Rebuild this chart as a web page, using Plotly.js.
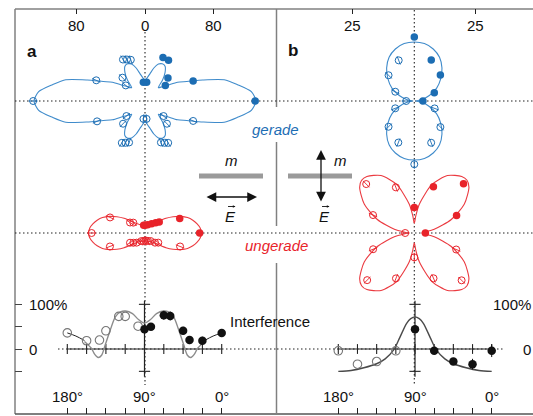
<!DOCTYPE html>
<html><head><meta charset="utf-8">
<script src="https://cdn.plot.ly/plotly-3.0.1.min.js"></script>
<style>html,body{margin:0;padding:0;background:#fff}#chart{width:533px;height:416px}</style>
</head><body><div id="chart"></div>
<script>
// ================= DATA =================
// Fit curves: one quadrant (theta in deg, r in plot units); the distributions are mirror-symmetric
const gaCurveTheta = [0,5,10,15,20,25,30,35,40,45,50,55,60,65,70,75,80,85,90];
const gaCurveR     = [130,125,110,96,72,54,44,32,26,22,32,41,47,48,46,40,32,27,24];
const uaCurveTheta = [0,5,10,15,20,25,30,35,40,45,50,55,60,70,80,90];
const uaCurveR     = [66,65,62,58,53,46,38,30,22,17,14,12.4,11.4,10.2,9.6,9.4];
const gbCurveTheta = [0,10,20,30,40,50,60,70,80,90];
const gbCurveR     = [0.5,3,6.5,10.5,14,17.5,20.5,22.5,23.7,24];
const ubCurveTheta = [0,10,20,30,40,45,50,60,70,80,85,90];
const ubCurveR     = [3,8,16,23.5,29,30.3,30,27,21,12,7,4];

// Measured points (theta deg, r)
const gaFillTheta = [0,22.5,37.5,45,60,67.5,85,95];
const gaFillR     = [129,61,30,38,55,55,22,22];
const gaOpenTheta = [180,157,141,134,118,113.5,109,203,219,226,241,245,249,265,275,291,295,299,314,321,337.5];
const gaOpenR     = [131,62,29,38,55,53,51,61,28,37,56,54,52,21,21,52,54,56,37,28,61];

const uaFillTheta = [0,22.5,37.5,44,54.5,72,90,100];
const uaFillR     = [64,44,21,17.4,13.4,10.2,9.2,9.2];
const uaOpenTheta = [180,156,145,138.5,201,213,220,229,245,260,275,290,305,316,324,339];
const uaOpenR     = [62.5,44.8,21.4,18.3,44,20.9,17.8,15,10.5,9.5,9.3,9.8,11.5,16.3,19.2,44];

const gbFillTheta = [90,67.5,45,22.5,0];
const gbFillR     = [26,18,15,8.8,3.5];
const gbOpenTheta = [111,135,154,180,201,225,249,270,292,315,340];
const gbOpenR     = [17.7,14.8,8.6,3.3,8.3,14.8,18.1,25.7,18.3,15,8.8];

const ubFillTheta = [0,22.5,45,67.5,90];
const ubFillR     = [4.5,18.6,28.3,20.3,10.4];
const ubOpenTheta = [112,134.5,156.5,180,201.5,225,248,270,293,315,338.5];
const ubOpenR     = [20,27.9,18.3,3.7,18,27.1,19.9,9.9,20,27.2,18.3];

// Interference (angle deg, %)
const iaOpenAng  = [180,157.5,142.5,135,120,112.5,97.5];
const iaOpenVal  = [36,18.5,20,40.7,73,73,51];
const iaFillAng  = [90,82.5,67.5,60,45,37.5,22.5,0];
const iaFillVal  = [44,50,75.5,74,40.7,20,18.5,36];
const iaFillErr  = [9,8,10,10,9,9,9,5];
const iaTheoAng  = [160,152,148,144,140,136,130,124,118,112,104,97,90,83,76,68,62,56,50,44,40,36,32,28,20];
const iaTheoVal  = [17,2,-12,-19,-14,8,42,72,83,85,79,66,58,66,79,85,83,72,42,8,-14,-19,-12,2,17];
const iaLineLAng = [180,170,160]; const iaLineLVal = [36,29,19];
const iaLineRAng = [20,10,0];     const iaLineRVal = [19,29,36];

const ibOpenAng  = [180,157.5,135,112.5];
const ibOpenVal  = [-4,-34,-28,-4];
const ibFillAng  = [90,67.5,45,22.5,0];
const ibFillVal  = [44,-4,-28,-34,-4];
const ibFillErr  = [0,3,5,12,14];
const ibTheoAng  = [180,165,150,135,125,115,108,100,95,90,85,80,72,65,55,45,30,15,0];
const ibTheoVal  = [-50,-48,-42,-33,-22,-2,25,57,68,72,68,57,25,-2,-22,-33,-42,-48,-50];

// Axis ticks / labels
const topTicksA = [-80,0,80];  const topTextA = ['80','0','80'];
const topTicksB = [-25,25];    const topTextB = ['25','25'];
const intTicks  = [0,22.5,45,67.5,90,112.5,135,157.5,180];
const intLabVals = [180,90,0]; const intLabText = ['180°','90°','0°'];
const intYTicks = [-50,0,50,100];
const intYLabVals = [100,0];   const intYLabText = ['100%','0'];
const vAxisCross = [100,-50];

// ================= LAYOUT HELPERS =================
const W=533, H=416;
const fx = p => p/W, fy = p => 1 - p/H;
function xAx(lo,hi,c,s){ return {domain:[lo/W,hi/W], range:[(lo-c)/s,(hi-c)/s]}; }
function yAx(top,bot,c,s){ return {domain:[1-bot/H,1-top/H], range:[(c-bot)/s,(c-top)/s]}; }
function angAx(lo,hi,p180,p0){ const s=(p0-p180)/180; return {domain:[lo/W,hi/W], range:[180-(lo-p180)/s,180-(hi-p180)/s]}; }
const rad = Math.PI/180;
function toXY(th,r){ return {x:th.map((t,i)=>r[i]*Math.cos(t*rad)), y:th.map((t,i)=>r[i]*Math.sin(t*rad))}; }
function closeCurve(th,r){
  const T=[],R=[],n=th.length;
  for(let i=0;i<n;i++){T.push(th[i]);R.push(r[i]);}
  for(let i=n-2;i>=0;i--){T.push(180-th[i]);R.push(r[i]);}
  for(let i=1;i<n;i++){T.push(180+th[i]);R.push(r[i]);}
  for(let i=n-2;i>=0;i--){T.push(360-th[i]);R.push(r[i]);}
  return toXY(T,R);
}
const ax = k => k===1 ? {xaxis:'x',yaxis:'y'} : {xaxis:'x'+k,yaxis:'y'+k};

const BLUE='#1c6db3', BLUEL='#3f8bcb', RED='#e8232a', REDL='#eb3a40';
const FONT='Liberation Sans, Arial, Helvetica, sans-serif';

function curve(th,r,k,color){
  const p=closeCurve(th,r);
  return Object.assign({type:'scatter',mode:'lines',x:p.x,y:p.y,hoverinfo:'skip',
    line:{color:color,width:1.1,shape:'spline',smoothing:0.7}},ax(k));
}
function filled(th,r,k,color){
  const p=toXY(th,r);
  return Object.assign({type:'scatter',mode:'markers',x:p.x,y:p.y,cliponaxis:false,hoverinfo:'skip',
    marker:{symbol:'circle',size:7.5,color:color}},ax(k));
}
function open(th,r,k,color){
  const p=toXY(th,r);
  return [
    Object.assign({type:'scatter',mode:'markers',x:p.x,y:p.y,cliponaxis:false,hoverinfo:'skip',
      marker:{symbol:'circle-open',size:7,color:color,line:{color:color,width:1}}},ax(k)),
    Object.assign({type:'scatter',mode:'markers',x:p.x,y:p.y,cliponaxis:false,hoverinfo:'skip',
      marker:{symbol:'line-ns-open',size:6.5,angle:th.map(t=>90-t),color:color,line:{color:color,width:0.9}}},ax(k))
  ];
}

const traces = [
  curve(gaCurveTheta,gaCurveR,1,BLUEL),
  ...open(gaOpenTheta,gaOpenR,1,BLUE),
  filled(gaFillTheta,gaFillR,1,BLUE),
  curve(uaCurveTheta,uaCurveR,2,REDL),
  ...open(uaOpenTheta,uaOpenR,2,RED),
  filled(uaFillTheta,uaFillR,2,RED),
  curve(gbCurveTheta,gbCurveR,3,BLUEL),
  ...open(gbOpenTheta,gbOpenR,3,BLUE),
  filled(gbFillTheta,gbFillR,3,BLUE),
  curve(ubCurveTheta,ubCurveR,4,REDL),
  ...open(ubOpenTheta,ubOpenR,4,RED),
  filled(ubFillTheta,ubFillR,4,RED),
];

// interference panels
function intTraces(k, theo, theoColor, opens, fills, extra){
  const t=[];
  t.push(Object.assign({type:'scatter',mode:'markers',x:intTicks,y:intTicks.map(()=>0),hoverinfo:'skip',cliponaxis:false,
    marker:{symbol:'line-ns-open',size:7,color:'#222',line:{color:'#222',width:1.1}}},ax(k)));
  t.push(Object.assign({type:'scatter',mode:'markers',x:vAxisCross.map(()=>90),y:vAxisCross,hoverinfo:'skip',cliponaxis:false,
    marker:{symbol:'line-ew-open',size:8,color:'#222',line:{color:'#222',width:1.1}}},ax(k)));
  t.push(Object.assign({type:'scatter',mode:'lines',x:theo[0],y:theo[1],hoverinfo:'skip',
    line:{color:theoColor,width:1.4,shape:'spline',smoothing:0.8}},ax(k)));
  (extra||[]).forEach(e=>t.push(Object.assign({type:'scatter',mode:'lines',x:e[0],y:e[1],hoverinfo:'skip',
    line:{color:'#222',width:1,shape:'spline'}},ax(k))));
  t.push(Object.assign({type:'scatter',mode:'markers',x:opens[0],y:opens[1],hoverinfo:'skip',cliponaxis:false,
    marker:{symbol:'circle-open',size:8.5,color:'#777',line:{color:'#777',width:1.1}}},ax(k)));
  t.push(Object.assign({type:'scatter',mode:'markers',x:fills[0],y:fills[1],hoverinfo:'skip',cliponaxis:false,
    error_y:{type:'data',array:fills[2],visible:true,color:'#111',thickness:1,width:0},
    marker:{symbol:'circle',size:8.5,color:'#111'}},ax(k)));
  return t;
}
traces.push(...intTraces(5,[iaTheoAng,iaTheoVal],'#8c8c8c',[iaOpenAng,iaOpenVal],[iaFillAng,iaFillVal,iaFillErr],
  [[iaLineLAng,iaLineLVal],[iaLineRAng,iaLineRVal]]));
traces.push(...intTraces(6,[ibTheoAng,ibTheoVal],'#4a4a4a',[ibOpenAng,ibOpenVal],[ibFillAng,ibFillVal,ibFillErr],[]));

// ================= LAYOUT =================
const base = {showgrid:false,zeroline:false,showline:false,fixedrange:true};
const hidden = Object.assign({},base,{visible:false});
const S_A=0.854, S_B=2.46, S_I=0.4467;
const CXA=145, CXB=414.3;

const layout = {
  width:W,height:H,margin:{l:0,r:0,t:0,b:0},showlegend:false,
  paper_bgcolor:'#fff',plot_bgcolor:'rgba(0,0,0,0)',
  font:{family:FONT,size:15,color:'#111'},
  xaxis: Object.assign({},base,xAx(15,276,CXA,S_A),{anchor:'y',side:'top',ticks:'inside',ticklen:5,tickwidth:1,tickcolor:'#222',tickvals:topTicksA,showticklabels:false}),
  yaxis: Object.assign({},hidden,yAx(9,167,101,S_A),{anchor:'x'}),
  xaxis2: Object.assign({},hidden,xAx(15,276,CXA,S_A),{anchor:'y2'}),
  yaxis2: Object.assign({},hidden,yAx(167,300,233,S_A),{anchor:'x2'}),
  xaxis3: Object.assign({},base,xAx(276,533,CXB,S_B),{anchor:'y3',side:'top',ticks:'inside',ticklen:5,tickwidth:1,tickcolor:'#222',tickvals:topTicksB,showticklabels:false}),
  yaxis3: Object.assign({},hidden,yAx(9,170,101,S_B),{anchor:'x3'}),
  xaxis4: Object.assign({},hidden,xAx(276,533,CXB,S_B),{anchor:'y4'}),
  yaxis4: Object.assign({},hidden,yAx(167,300,233,S_B),{anchor:'x4'}),
  xaxis5: Object.assign({},base,angAx(15,276,67.3,221.7),{anchor:'y5',side:'bottom',ticks:'inside',ticklen:6,tickwidth:1,tickcolor:'#222',tickvals:intTicks,showticklabels:false}),
  yaxis5: Object.assign({},base,yAx(280,414,349,S_I),{anchor:'x5',side:'left',ticks:'inside',ticklen:7,tickwidth:1,tickcolor:'#444',tickvals:intYTicks,showticklabels:false}),
  xaxis6: Object.assign({},base,angAx(276,533,338.3,491.7),{anchor:'y6',side:'bottom',ticks:'inside',ticklen:6,tickwidth:1,tickcolor:'#222',tickvals:intTicks,showticklabels:false}),
  yaxis6: Object.assign({},hidden,yAx(280,414,349,S_I),{anchor:'x6'}),
};

const FR='#808080', DOT='1.5px,2.5px';
function pline(x0,y0,x1,y1,color,width,dash){ return {type:'line',xref:'paper',yref:'paper',x0:fx(x0),y0:fy(y0),x1:fx(x1),y1:fy(y1),layer:'below',line:{color:color,width:width,dash:dash||'solid'}}; }
layout.shapes = [
  pline(15,9,15,414,FR,1.5), pline(15,9,533,9,FR,1.5), pline(15,414,533,414,'#555',1.5),
  pline(276.5,9,276.5,107,FR,1.5), pline(276.5,142,276.5,226,FR,1.5), pline(276.5,263,276.5,414,FR,1.5),
  {type:'line',xref:'paper',yref:'y',x0:fx(15),x1:1,y0:0,y1:0,layer:'below',line:{color:'#222',width:1.1,dash:DOT}},
  {type:'line',xref:'paper',yref:'y2',x0:fx(15),x1:1,y0:0,y1:0,layer:'below',line:{color:'#222',width:1.1,dash:DOT}},
  {type:'line',xref:'x',yref:'paper',x0:0,x1:0,y0:fy(32),y1:fy(385),layer:'below',line:{color:'#222',width:1.1,dash:DOT}},
  {type:'line',xref:'x3',yref:'paper',x0:0,x1:0,y0:fy(10),y1:fy(385),layer:'below',line:{color:'#222',width:1.1,dash:DOT}},
  {type:'line',xref:'paper',yref:'y5',x0:fx(58),x1:fx(276),y0:0,y1:0,layer:'below',line:{color:'#222',width:1.1,dash:DOT}},
  {type:'line',xref:'paper',yref:'y6',x0:fx(277),x1:fx(505),y0:0,y1:0,layer:'below',line:{color:'#222',width:1.1,dash:DOT}},
  {type:'line',xref:'x5',yref:'y5',x0:180,x1:0,y0:0,y1:0,layer:'below',line:{color:'#222',width:1.2}},
  {type:'line',xref:'x5',yref:'y5',x0:90,x1:90,y0:-62,y1:108,layer:'below',line:{color:'#222',width:1.2}},
  {type:'line',xref:'x6',yref:'y6',x0:180,x1:0,y0:0,y1:0,layer:'below',line:{color:'#222',width:1.2}},
  {type:'line',xref:'x6',yref:'y6',x0:90,x1:90,y0:-62,y1:108,layer:'below',line:{color:'#222',width:1.2}},
  pline(199,176,263,176,'#9a9a9a',5), pline(288,176,352,176,'#9a9a9a',5),
];

function txt(text,x,y,opts){ return Object.assign({text:text,x:x,y:y,xref:'paper',yref:'paper',showarrow:false,xanchor:'center',yanchor:'middle',font:{family:FONT,size:15,color:'#111'}},opts||{}); }
const ann = [];
topTicksA.forEach((v,i)=>ann.push(txt(topTextA[i],v,fy(25),{xref:'x'})));
topTicksB.forEach((v,i)=>ann.push(txt(topTextB[i],v,fy(25),{xref:'x3'})));
ann.push(txt('<b>a</b>',fx(32),fy(51),{font:{family:FONT,size:17,color:'#111'}}));
ann.push(txt('<b>b</b>',fx(293),fy(50),{font:{family:FONT,size:17,color:'#111'}}));
ann.push(txt('<i>gerade</i>',fx(275.5),fy(129),{font:{family:FONT,size:15,color:BLUE}}));
ann.push(txt('<i>ungerade</i>',fx(276),fy(245),{font:{family:FONT,size:15,color:RED}}));
ann.push(txt('<i>m</i>',fx(231),fy(160)));
ann.push(txt('<i>m</i>',fx(341),fy(160)));
ann.push(txt('<i>E</i>',fx(230),fy(216)));
ann.push(txt('<i>E</i>',fx(324),fy(216)));
ann.push(txt('Interference',fx(228),fy(321),{xanchor:'left'}));
intLabVals.forEach((v,i)=>{ ann.push(txt(intLabText[i],v,fy(396),{xref:'x5'})); ann.push(txt(intLabText[i],v,fy(396),{xref:'x6'})); });
intYLabVals.forEach((v,i)=>{
  ann.push(txt(intYLabText[i],fx(27),v,{yref:'y5',xanchor:'left'}));
  ann.push(txt(intYLabText[i],1,v,{yref:'y6',xanchor:'right'}));
});
function arrow(x,y,axp,ayp,both,size,width){ return {xref:'paper',yref:'paper',x:fx(x),y:fy(y),ax:axp,ay:ayp,text:'',showarrow:true,
  arrowhead:2,arrowsize:size,arrowwidth:width,arrowcolor:'#111',arrowside:both?'end+start':'end',standoff:0,startstandoff:0}; }
ann.push(arrow(257,197,-52,0,true,1.5,1.3));
ann.push(arrow(321,150,0,53,true,1.5,1.3));
ann.push(arrow(235.5,206.5,-9,0,false,0.6,0.9));
ann.push(arrow(329.5,206.5,-9,0,false,0.6,0.9));
layout.annotations = ann;

Plotly.newPlot('chart',traces,layout,{staticPlot:true,displayModeBar:false});
</script>
</body></html>
